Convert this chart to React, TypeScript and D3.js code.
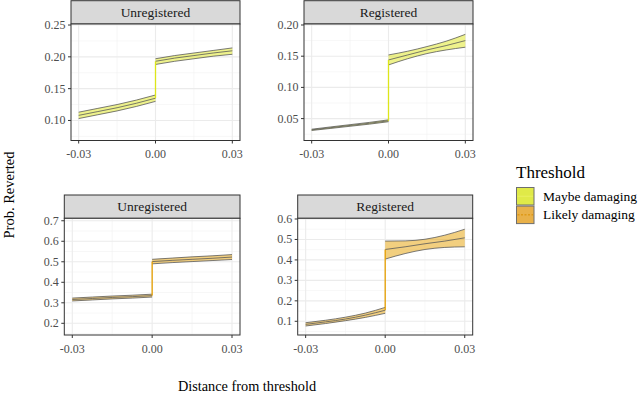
import React from "react";
import * as d3 from "d3";

// x positions of the fitted curves on each side of the threshold
const xLeft = [-0.03, -0.0225, -0.015, -0.0075, 0];
const xRight = [0, 0.0075, 0.015, 0.0225, 0.03];
const xTicks = [-0.03, 0, 0.03];

const thresholds = ["Maybe damaging", "Likely damaging"];
const groups = ["Unregistered", "Registered"];

// Maybe damaging / Unregistered
const maybeUnregLeftHi = [0.113, 0.119, 0.125, 0.132, 0.14];
const maybeUnregLeftMid = [0.108, 0.114, 0.12, 0.127, 0.135];
const maybeUnregLeftLo = [0.103, 0.109, 0.115, 0.122, 0.13];
const maybeUnregRightHi = [0.197, 0.202, 0.206, 0.21, 0.214];
const maybeUnregRightMid = [0.193, 0.198, 0.202, 0.206, 0.2095];
const maybeUnregRightLo = [0.188, 0.193, 0.197, 0.201, 0.204];

// Maybe damaging / Registered
const maybeRegLeftHi = [0.033, 0.0367, 0.0403, 0.0439, 0.048];
const maybeRegLeftMid = [0.032, 0.0355, 0.039, 0.0425, 0.0465];
const maybeRegLeftLo = [0.031, 0.0343, 0.0377, 0.0411, 0.045];
const maybeRegRightHi = [0.152, 0.158, 0.1654, 0.174, 0.185];
const maybeRegRightMid = [0.144, 0.152, 0.16, 0.167, 0.175];
const maybeRegRightLo = [0.136, 0.146, 0.1542, 0.16, 0.1644];

// Likely damaging / Unregistered
const likelyUnregLeftHi = [0.323, 0.328, 0.333, 0.337, 0.342];
const likelyUnregLeftMid = [0.316, 0.321, 0.326, 0.33, 0.335];
const likelyUnregLeftLo = [0.309, 0.314, 0.319, 0.323, 0.328];
const likelyUnregRightHi = [0.512, 0.518, 0.524, 0.529, 0.535];
const likelyUnregRightMid = [0.501, 0.507, 0.512, 0.517, 0.523];
const likelyUnregRightLo = [0.49, 0.496, 0.501, 0.506, 0.511];

// Likely damaging / Registered
const likelyRegLeftHi = [0.093, 0.105, 0.12, 0.14, 0.168];
const likelyRegLeftMid = [0.085, 0.097, 0.111, 0.13, 0.154];
const likelyRegLeftLo = [0.077, 0.089, 0.103, 0.119, 0.139];
const likelyRegRightHi = [0.492, 0.493, 0.501, 0.521, 0.55];
const likelyRegRightMid = [0.451, 0.464, 0.479, 0.492, 0.508];
const likelyRegRightLo = [0.404, 0.431, 0.451, 0.461, 0.464];

const yTicksMaybeUnreg = [0.1, 0.15, 0.2, 0.25];
const yTicksMaybeReg = [0.05, 0.1, 0.15, 0.2];
const yTicksLikelyUnreg = [0.2, 0.3, 0.4, 0.5, 0.6, 0.7];
const yTicksLikelyReg = [0.1, 0.2, 0.3, 0.4, 0.5, 0.6];

const colors = ["#DDE61A", "#E69F00"];
const keyFills = ["#E0EA48", "#E9B149"];
const FONT = "'Liberation Serif', 'DejaVu Serif', serif";

type Seg = { x: number; lo: number; mid: number; hi: number };
const seg = (xs: number[], lo: number[], mid: number[], hi: number[]): Seg[] =>
  xs.map((x, i) => ({ x, lo: lo[i], mid: mid[i], hi: hi[i] }));

const panels = [
  {
    title: groups[0], color: colors[0], left: 71, right: 240, top: 24, bottom: 140.5,
    yDomain: [0.0685, 0.2516], yTicks: yTicksMaybeUnreg, fmt: (v: number) => v.toFixed(2),
    segL: seg(xLeft, maybeUnregLeftLo, maybeUnregLeftMid, maybeUnregLeftHi),
    segR: seg(xRight, maybeUnregRightLo, maybeUnregRightMid, maybeUnregRightHi),
  },
  {
    title: groups[1], color: colors[0], left: 304, right: 473, top: 24, bottom: 140.5,
    yDomain: [0.0149, 0.2016], yTicks: yTicksMaybeReg, fmt: (v: number) => v.toFixed(2),
    segL: seg(xLeft, maybeRegLeftLo, maybeRegLeftMid, maybeRegLeftHi),
    segR: seg(xRight, maybeRegRightLo, maybeRegRightMid, maybeRegRightHi),
  },
  {
    title: groups[0], color: colors[1], left: 64.3, right: 240, top: 218.3, bottom: 335,
    yDomain: [0.143, 0.712], yTicks: yTicksLikelyUnreg, fmt: (v: number) => v.toFixed(1),
    segL: seg(xLeft, likelyUnregLeftLo, likelyUnregLeftMid, likelyUnregLeftHi),
    segR: seg(xRight, likelyUnregRightLo, likelyUnregRightMid, likelyUnregRightHi),
  },
  {
    title: groups[1], color: colors[1], left: 297.7, right: 472.7, top: 218.3, bottom: 335,
    yDomain: [0.033, 0.6034], yTicks: yTicksLikelyReg, fmt: (v: number) => v.toFixed(1),
    segL: seg(xLeft, likelyRegLeftLo, likelyRegLeftMid, likelyRegLeftHi),
    segR: seg(xRight, likelyRegRightLo, likelyRegRightMid, likelyRegRightHi),
  },
];

const STRIP_H = 23.3;

function Panel({ p }: { p: (typeof panels)[number] }) {
  const x = d3.scaleLinear().domain([-0.033, 0.033]).range([p.left, p.right]);
  const y = d3.scaleLinear().domain(p.yDomain).range([p.bottom, p.top]);

  const step = p.yTicks[1] - p.yTicks[0];
  const yMinor = [p.yTicks[0] - step / 2, ...p.yTicks.map((t) => t + step / 2)].filter(
    (v) => v > p.yDomain[0] && v < p.yDomain[1]
  );
  const xMinor = [-0.015, 0.015];

  const area = d3
    .area<Seg>()
    .x((d) => x(d.x))
    .y0((d) => y(d.lo))
    .y1((d) => y(d.hi))
    .curve(d3.curveMonotoneX);
  const line = (k: "lo" | "mid" | "hi") =>
    d3
      .line<Seg>()
      .x((d) => x(d.x))
      .y((d) => y(d[k]))
      .curve(d3.curveMonotoneX);

  const jumpFrom = p.segL[p.segL.length - 1].mid;
  const jumpTo = p.segR[0].mid;

  return (
    <g>
      {/* strip */}
      <rect x={p.left} y={p.top - STRIP_H} width={p.right - p.left} height={STRIP_H}
        fill="#D9D9D9" stroke="#333333" strokeWidth={1} />
      <text x={(p.left + p.right) / 2} y={p.top - STRIP_H / 2 + 4.5} textAnchor="middle"
        fontSize={13.5} fill="#1A1A1A">{p.title}</text>

      {/* panel */}
      <rect x={p.left} y={p.top} width={p.right - p.left} height={p.bottom - p.top} fill="#FFFFFF" />
      {yMinor.map((v) => (
        <line key={"ym" + v} x1={p.left} x2={p.right} y1={y(v)} y2={y(v)} stroke="#F2F2F2" strokeWidth={0.6} />
      ))}
      {xMinor.map((v) => (
        <line key={"xm" + v} x1={x(v)} x2={x(v)} y1={p.top} y2={p.bottom} stroke="#F2F2F2" strokeWidth={0.6} />
      ))}
      {p.yTicks.map((v) => (
        <line key={"yg" + v} x1={p.left} x2={p.right} y1={y(v)} y2={y(v)} stroke="#EBEBEB" strokeWidth={1.1} />
      ))}
      {xTicks.map((v) => (
        <line key={"xg" + v} x1={x(v)} x2={x(v)} y1={p.top} y2={p.bottom} stroke="#EBEBEB" strokeWidth={1.1} />
      ))}

      {[p.segL, p.segR].map((s, i) => (
        <g key={"s" + i}>
          <path d={area(s) || ""} fill={p.color} fillOpacity={0.5} stroke="none" />
          <path d={line("hi")(s) || ""} fill="none" stroke="#595959" strokeWidth={0.8} />
          <path d={line("lo")(s) || ""} fill="none" stroke="#595959" strokeWidth={0.8} />
          <path d={line("mid")(s) || ""} fill="none" stroke="#595959" strokeWidth={0.8} />
        </g>
      ))}
      <line x1={x(0)} x2={x(0)} y1={y(jumpFrom)} y2={y(jumpTo)} stroke={p.color} strokeWidth={1.3} />

      <rect x={p.left} y={p.top} width={p.right - p.left} height={p.bottom - p.top}
        fill="none" stroke="#333333" strokeWidth={1} />

      {/* axes */}
      {p.yTicks.map((v) => (
        <g key={"yt" + v}>
          <line x1={p.left - 3} x2={p.left} y1={y(v)} y2={y(v)} stroke="#333333" strokeWidth={1} />
          <text x={p.left - 5.5} y={y(v) + 4} textAnchor="end" fontSize={12} fill="#4D4D4D">{p.fmt(v)}</text>
        </g>
      ))}
      {xTicks.map((v) => (
        <g key={"xt" + v}>
          <line x1={x(v)} x2={x(v)} y1={p.bottom} y2={p.bottom + 3} stroke="#333333" strokeWidth={1} />
          <text x={x(v)} y={p.bottom + 17.5} textAnchor="middle" fontSize={12} fill="#4D4D4D">{v.toFixed(2)}</text>
        </g>
      ))}
    </g>
  );
}

export default function App() {
  return (
    <svg width={640} height={394} style={{ position: "absolute", left: 0, top: 0, fontFamily: FONT }}>
      <rect width={640} height={394} fill="#FFFFFF" />
      {panels.map((p, i) => (
        <Panel key={i} p={p} />
      ))}

      <text transform="translate(13.5,195) rotate(-90)" textAnchor="middle" fontSize={14.5} fill="#000">
        Prob. Reverted
      </text>
      <text x={247} y={391} textAnchor="middle" fontSize={14.3} fill="#000">
        Distance from threshold
      </text>

      {/* legend */}
      <text x={516} y={178} fontSize={17} fill="#000">Threshold</text>
      {thresholds.map((t, i) => {
        const ky = 187.5 + i * 18.6;
        return (
          <g key={t}>
            <rect x={516.5} y={ky} width={17.5} height={17.5} fill={keyFills[i]} stroke="#6E6E6E" strokeWidth={1} />
            <line x1={517.5} x2={533} y1={ky + 8.75} y2={ky + 8.75} stroke={i === 0 ? "#E9F060" : "#D98E00"}
              strokeWidth={1} strokeDasharray={i === 0 ? undefined : "2,1.5"} />
            <text x={543} y={ky + 13} fontSize={13.5} fill="#000">{t}</text>
          </g>
        );
      })}
    </svg>
  );
}
